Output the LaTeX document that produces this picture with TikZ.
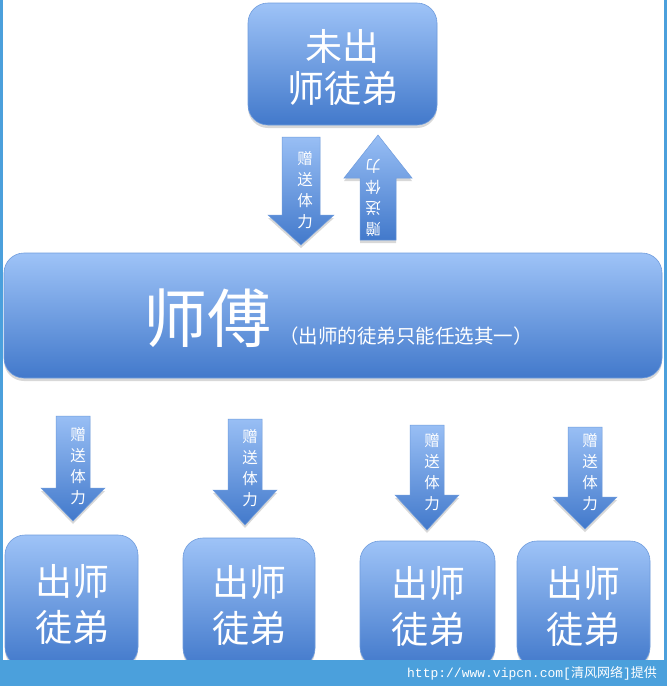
\documentclass[tikz,border=0pt]{standalone}
\usepackage{fontspec}
\newfontfamily\cjk{Noto Sans CJK SC}
\newfontfamily\monof{Liberation Mono}
\usetikzlibrary{shadows}
\definecolor{boxtop}{HTML}{9EC3F7}
\definecolor{boxmid}{HTML}{77A4E6}
\definecolor{boxbot}{HTML}{4279CB}
\definecolor{boxline}{HTML}{6F9CDD}
\definecolor{band}{HTML}{4BA0DC}
\tikzset{
  bluebox/.style={rounded corners=20pt, top color=boxtop, middle color=boxmid, bottom color=boxbot,
    draw=boxline, line width=0.6pt, inner sep=0pt,
    drop shadow={opacity=0.3, shadow xshift=0pt, shadow yshift=-3pt}},
  blockarrow/.style={top color=boxtop!85!boxmid, bottom color=boxbot,
    draw=boxline, line width=0.5pt,
    drop shadow={opacity=0.3, shadow xshift=0pt, shadow yshift=-3pt}},
  bigtext/.style={text=white, font=\cjk\fontsize{37}{42}\selectfont, align=center, inner sep=0pt},
  arrowtext/.style={text=white, font=\cjk\fontsize{15.5}{21}\selectfont, align=center, inner sep=0pt},
}
% block arrow: centre x, base y, head base y, tip y, shaft half, head half
\newcommand\vblock[6]{%
  \path[blockarrow] ({#1-#5},#2) -- ({#1+#5},#2) -- ({#1+#5},#3) -- ({#1+#6},#3)
    -- (#1,#4) -- ({#1-#6},#3) -- ({#1-#5},#3) -- cycle;}
\begin{document}
\begin{tikzpicture}[x=1pt,y=-1pt]
\useasboundingbox (0,0) rectangle (667,686);
\fill[white] (0,0) rectangle (667,686);

% top box
\node[bluebox, minimum width=189pt, minimum height=122pt] (top) at (342.5,64) {};
\node[bigtext] (toptext) at (342.5,67) {未出\\师徒弟};

% arrows between top and master
\vblock{301}{137}{215}{245}{19}{33}
\node[arrowtext] (dntext) at (305,190) {赠\\送\\体\\力};
\vblock{378}{240}{178}{135}{18}{34}
\node[arrowtext, rotate=180] (uptext) at (373,198) {赠\\送\\体\\力};

% master box
\node[bluebox, minimum width=658pt, minimum height=125pt] (master) at (333,315.5) {};
\node[text=white, font=\cjk\fontsize{64}{64}\selectfont, inner sep=0pt] (mtext) at (207,318) {师傅};
\node[text=white, font=\cjk\fontsize{19.5}{20}\selectfont, inner sep=0pt, anchor=west] (mnote) at (279,336) {（出师的徒弟只能任选其一）};

% bottom arrows
\vblock{73}{416}{488}{521}{17}{32}
\node[arrowtext] (a1) at (78,466) {赠\\送\\体\\力};
\vblock{245}{419}{490}{525}{17}{32}
\node[arrowtext] (a2) at (250,468) {赠\\送\\体\\力};
\vblock{427}{425}{495}{530}{17}{32}
\node[arrowtext] (a3) at (432,472) {赠\\送\\体\\力};
\vblock{585}{427}{497}{529}{17}{32}
\node[arrowtext] (a4) at (590,472) {赠\\送\\体\\力};

% bottom boxes
\node[bluebox, minimum width=133pt, minimum height=132pt] (s1) at (71.5,601) {};
\node[bigtext, font=\cjk\fontsize{37}{46}\selectfont] (s1t) at (72,604) {出师\\徒弟};
\node[bluebox, minimum width=132pt, minimum height=130pt] (s2) at (249,603) {};
\node[bigtext, font=\cjk\fontsize{37}{46}\selectfont] (s2t) at (249,605) {出师\\徒弟};
\node[bluebox, minimum width=135pt, minimum height=126pt] (s3) at (427.5,604) {};
\node[bigtext, font=\cjk\fontsize{37}{46}\selectfont] (s3t) at (428,606) {出师\\徒弟};
\node[bluebox, minimum width=133pt, minimum height=126pt] (s4) at (583.5,604) {};
\node[bigtext, font=\cjk\fontsize{37}{46}\selectfont] (s4t) at (583,606) {出师\\徒弟};

% frame and bottom band
\fill[band] (0,660) rectangle (667,686);
\fill[band] (0,0) rectangle (2.5,686);
\fill[band] (664,0) rectangle (667,686);
\node[text=white, inner sep=0pt, anchor=east, font=\fontsize{13}{13}\selectfont] (wm) at (657,673)
  {{\monof http://www.vipcn.com[}{\cjk 清风网络}{\monof ]}{\cjk 提供}};
\end{tikzpicture}
\end{document}
